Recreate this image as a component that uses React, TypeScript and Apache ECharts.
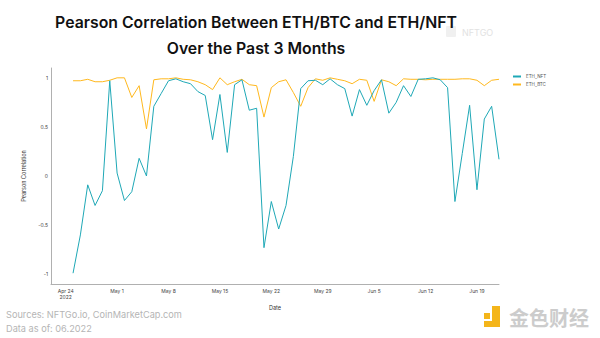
import React, { useEffect, useRef } from "react";
import * as echarts from "echarts";

// Daily Pearson correlation, 2022-04-25 .. 2022-06-22
const START_DATE = [2022, 3, 25];
const ETH_NFT = [
  -0.99, -0.6, -0.09, -0.3, -0.15, 0.97, 0.03, -0.25, -0.16, 0.18,
  0.0, 0.71, 0.84, 0.97, 0.99, 0.96, 0.94, 0.86, 0.82, 0.37,
  0.83, 0.24, 0.93, 0.98, 0.67, 0.69, -0.73, -0.26, -0.54, -0.3,
  0.2, 0.89, 0.97, 0.975, 0.93, 0.99, 0.93, 0.89, 0.61, 0.88,
  0.72, 0.87, 0.98, 0.64, 0.75, 0.92, 0.81, 0.985, 0.99, 1.0,
  0.98, 0.9, -0.26, 0.23, 0.72, -0.14, 0.58, 0.71, 0.17,
];
const ETH_BTC = [
  0.97, 0.97, 0.985, 0.96, 0.96, 0.975, 1.0, 1.0, 0.8, 0.92,
  0.48, 0.98, 0.99, 0.99, 1.0, 0.985, 0.98, 0.96, 0.93, 0.88,
  1.0, 0.93, 0.96, 0.985, 0.93, 0.92, 0.6, 0.9, 0.96, 0.98,
  0.85, 0.71, 0.9, 0.99, 0.975, 1.0, 0.985, 0.97, 0.94, 0.985,
  0.975, 0.76, 0.98, 0.96, 0.92, 0.99, 0.985, 0.985, 0.98, 0.985,
  0.985, 0.985, 0.985, 0.99, 0.99, 0.975, 0.92, 0.975, 0.985,
];
const SERIES_NAMES = ["ETH_NFT", "ETH_BTC"];
const TICK_DATES = [
  [2022, 3, 24], [2022, 4, 1], [2022, 4, 8], [2022, 4, 15], [2022, 4, 22],
  [2022, 4, 29], [2022, 5, 5], [2022, 5, 12], [2022, 5, 19],
];
const TICK_LABELS = [
  "Apr 24\n2022", "May 1", "May 8", "May 15", "May 22", "May 29", "Jun 5", "Jun 12", "Jun 19",
];
const Y_TICKS = [-1, -0.5, 0, 0.5, 1];
const X_RANGE = [[2022, 3, 22], [2022, 5, 22]];

const DAY = 86400000;
const BASE = new Date(2022, 3, 24).getTime();
// x position in days since Apr 24 2022
const dayNum = (d: number[]) => Math.round((new Date(d[0], d[1], d[2]).getTime() - BASE) / DAY);

export default function App() {
  const ref = useRef<HTMLDivElement>(null);
  useEffect(() => {
    if (!ref.current) return;
    const chart = echarts.init(ref.current, null, { renderer: "svg" });
    const startN = dayNum(START_DATE);
    const tickN = TICK_DATES.map(dayNum);
    const font = "Inter, 'Open Sans', sans-serif";
    chart.setOption({
      animation: false,
      textStyle: { fontFamily: font },
      grid: { left: 51, right: 101, top: 68, bottom: 54 },
      legend: {
        orient: "vertical",
        left: 508,
        top: 69,
        itemWidth: 8,
        itemHeight: 2,
        itemGap: 3,
        icon: "rect",
        textStyle: { fontSize: 4.5, color: "#555" },
        data: SERIES_NAMES,
      },
      xAxis: {
        type: "value",
        min: dayNum(X_RANGE[0]),
        max: dayNum(X_RANGE[1]),
        axisLine: { show: true, onZero: false, lineStyle: { color: "#b0b0b0", width: 1 } },
        axisTick: { show: false },
        splitLine: { show: false },
        axisLabel: {
          customValues: tickN,
          fontSize: 5,
          color: "#444",
          margin: 4,
          lineHeight: 6,
          formatter: (v: number) => {
            const i = tickN.indexOf(Math.round(v));
            return i >= 0 ? TICK_LABELS[i] : "";
          },
        },
        name: "Date",
        nameLocation: "middle",
        nameGap: 21,
        nameTextStyle: { fontSize: 5.5, color: "#333" },
      },
      yAxis: {
        type: "value",
        min: -1.1,
        max: 1.1,
        axisLine: { show: true, onZero: false, lineStyle: { color: "#b0b0b0", width: 1 } },
        axisTick: { show: false },
        splitLine: { show: false },
        axisLabel: {
          customValues: Y_TICKS,
          fontSize: 5,
          color: "#444",
          margin: 3,
          formatter: (v: number) => String(v),
        },
        name: "Pearson Correlation",
        nameLocation: "middle",
        nameGap: 15,
        nameRotate: 90,
        nameTextStyle: { fontSize: 5.5, color: "#333" },
      },
      series: [
        {
          name: SERIES_NAMES[0],
          type: "line",
          showSymbol: false,
          color: "#1fa8b6",
          lineStyle: { width: 1, color: "#1fa8b6" },
          data: ETH_NFT.map((v, i) => [startN + i, v]),
          z: 3,
        },
        {
          name: SERIES_NAMES[1],
          type: "line",
          showSymbol: false,
          color: "#ffb81e",
          lineStyle: { width: 1, color: "#ffb81e" },
          data: ETH_BTC.map((v, i) => [startN + i, v]),
          z: 2,
        },
      ],
      graphic: [
        {
          type: "rect",
          shape: { x: 446, y: 26, width: 10, height: 11, r: 1 },
          style: { fill: "#f0f0f0" },
        },
        {
          type: "text",
          x: 462,
          y: 32,
          style: {
            text: "NFTGO",
            verticalAlign: "middle",
            font: `400 9px ${font}`,
            fill: "#e2e2e2",
          },
        },
        {
          type: "text",
          x: 256,
          y: 22,
          style: {
            text: "Pearson Correlation Between ETH/BTC and ETH/NFT",
            align: "center",
            verticalAlign: "middle",
            font: `600 15.8px ${font}`,
            fill: "#111",
          },
        },
        {
          type: "text",
          x: 256,
          y: 48,
          style: {
            text: "Over the Past 3 Months",
            align: "center",
            verticalAlign: "middle",
            font: `600 15.8px ${font}`,
            fill: "#111",
          },
        },
        {
          type: "text",
          x: 6,
          y: 314,
          style: {
            text: "Sources: NFTGo.io, CoinMarketCap.com",
            verticalAlign: "middle",
            font: `400 9.2px ${font}`,
            fill: "#b5b5b5",
          },
        },
        {
          type: "text",
          x: 6,
          y: 328,
          style: {
            text: "Data as of: 06.2022",
            verticalAlign: "middle",
            font: `400 9.2px ${font}`,
            fill: "#b5b5b5",
          },
        },
        {
          type: "rect",
          shape: { x: 484, y: 313, width: 6, height: 6 },
          style: { fill: "#f4b51a" },
        },
        {
          type: "rect",
          shape: { x: 492, y: 306, width: 8, height: 21 },
          style: { fill: "#f4b51a" },
        },
        {
          type: "rect",
          shape: { x: 484, y: 321, width: 16, height: 6 },
          style: { fill: "#f4b51a" },
        },
        {
          type: "text",
          x: 509,
          y: 317,
          style: {
            text: "金色财经",
            verticalAlign: "middle",
            font: `700 20px 'Noto Sans CJK SC', sans-serif`,
            fill: "#cccccc",
          },
        },
      ],
    });
    return () => chart.dispose();
  }, []);
  return (
    <div
      ref={ref}
      style={{ position: "fixed", left: 0, top: 0, width: 600, height: 338, background: "#fff" }}
    />
  );
}
